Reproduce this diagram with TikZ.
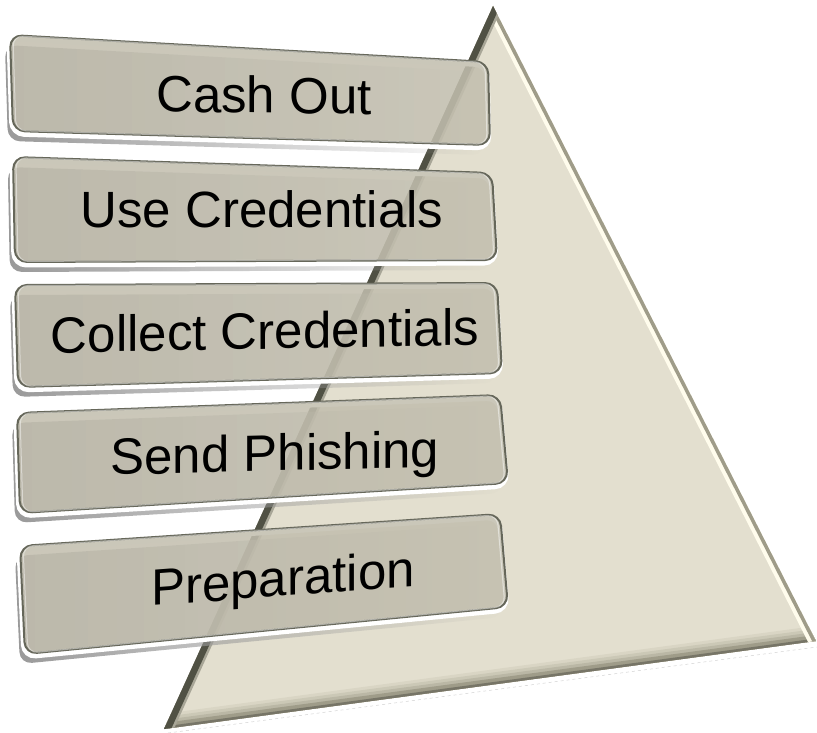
\documentclass[tikz,border=0pt]{standalone}
\usepackage{fontspec}
\setmainfont{Liberation Sans}
\usetikzlibrary{calc,fadings}
\definecolor{tri}{HTML}{E3DFCF}
\definecolor{triedge}{HTML}{505144}
\definecolor{trigray}{HTML}{9F9C89}
\definecolor{trilight}{HTML}{FFFCEC}
\definecolor{boxfill}{HTML}{C2BEAE}
\definecolor{boxline}{HTML}{66675A}
\definecolor{shadowgray}{HTML}{999999}

\newcommand\phbox[8]{%
  \fill[shadowgray, path fading=east, rounded corners=12pt, shift={(-5,10)}] #1 -- #2 -- #3 -- #4 -- cycle;
  \draw[white, line width=5pt, rounded corners=12pt, shift={(-1,3)}] #1 -- #2 -- #3 -- #4 -- cycle;
  \fill[boxfill, fill opacity=.86, rounded corners=12pt] #1 -- #2 -- #3 -- #4 -- cycle;
  \draw[boxline, line width=2pt, rounded corners=12pt] #1 -- #2 -- #3 -- #4 -- cycle;
  \draw[white, opacity=.45, line width=1pt, rounded corners=10pt]
    ($#1!3pt!#3$) -- ($#2!3pt!#4$) -- ($#3!3pt!#1$) -- ($#4!3pt!#2$) -- cycle;
  \node[boxtext, yslant=#6, anchor=base] (#7) at #5 {#8};
}

\begin{document}
\begin{tikzpicture}[x=1pt,y=-1pt,
  boxtext/.style={font=\fontsize{51}{60}\selectfont, text=black, inner sep=0pt}]
\useasboundingbox (0,0) rectangle (817,733);
% faint reflection under the pyramid
\draw[gray!35, dashed, line width=0.5pt] (168,733) -- (817,647);
% pyramid
\coordinate (A) at (493,6);
\coordinate (L) at (164,729);
\coordinate (R) at (816,641);
\begin{scope}
  \clip (A) -- (L) -- (R) -- cycle;
  \fill[tri] (A) -- (L) -- (R) -- cycle;
  % bottom bevel
  \draw[line width=30pt, color=tri!85!trigray] (L) -- (R);
  \draw[line width=24pt, color=tri!65!trigray] (L) -- (R);
  \draw[line width=18pt, color=tri!40!trigray] (L) -- (R);
  \draw[line width=12pt, color=trigray] (L) -- (R);
  \draw[line width=5pt, color=trigray!75!black] (L) -- (R);
  % right bevel
  \draw[line width=15pt, color=trilight] (A) -- (R);
  \draw[line width=7pt, color=trigray] (A) -- (R);
  % left bevel
  \draw[line width=18pt, color=tri!60!triedge] (A) -- (L);
  \draw[line width=13pt, color=triedge] (A) -- (L);
\end{scope}
% boxes
\phbox{(10,35)}{(488,62)}{(490,145)}{(13,131)}{(264,113)}{-0.014}{b1}{Cash Out}
\phbox{(13,157)}{(492,173)}{(497,260)}{(15,262)}{(262,227)}{0}{b2}{Use Credentials}
\phbox{(15,285)}{(497,283)}{(502,373)}{(18,387)}{(265,349)}{0.019}{b3}{Collect Credentials}
\phbox{(17,413)}{(500,395)}{(508,483)}{(20,513)}{(275,471)}{0.024}{b4}{Send Phishing}
\phbox{(20,546)}{(500,514)}{(508,607)}{(25,654)}{(283,596)}{0.075}{b5}{Preparation}
\end{tikzpicture}
\end{document}
